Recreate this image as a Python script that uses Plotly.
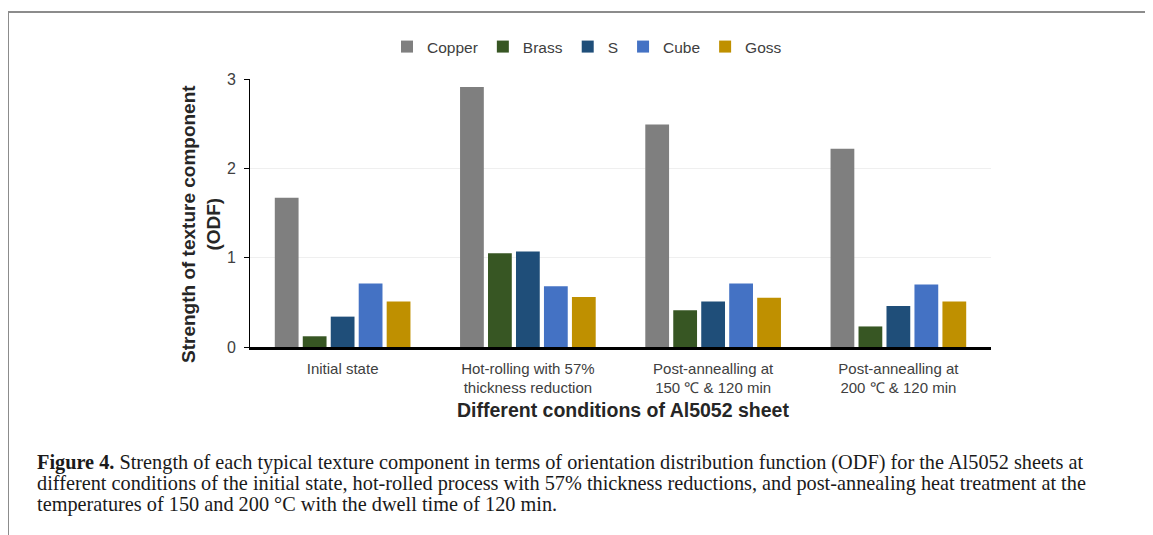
import plotly.graph_objects as go

categories = [
    "Initial state",
    "Hot-rolling with 57%<br>thickness reduction",
    "Post-annealling at<br>150 ℃ & 120 min",
    "Post-annealling at<br>200 ℃ & 120 min",
]
series_names = ["Copper", "Brass", "S", "Cube", "Goss"]
copper = [1.67, 2.91, 2.49, 2.22]
brass = [0.12, 1.05, 0.41, 0.23]
s_comp = [0.34, 1.07, 0.51, 0.46]
cube = [0.71, 0.68, 0.71, 0.70]
goss = [0.51, 0.56, 0.55, 0.51]
series_values = [copper, brass, s_comp, cube, goss]
colors = ["#7f7f7f", "#375623", "#1f4e79", "#4472c4", "#bf9000"]
y_ticks = [0, 1, 2, 3]

caption_lines = [
    "<b>Figure 4.</b> Strength of each typical texture component in terms of orientation "
    "distribution function (ODF) for the Al5052 sheets at",
    "different conditions of the initial state, hot-rolled process with 57% thickness reductions, "
    "and post-annealing heat treatment at the",
    "temperatures of 150 and 200 °C with the dwell time of 120 min.",
]

OFF = 8  # page body margin
W, H = 1153 - OFF, 535 - OFF
# plot area in screen px of the reference
SL, SR, ST, SB = 250, 991, 79, 347
L, R, T, B = SL - OFF, SR - OFF, ST - OFF, SB - OFF


def px(x):  # screen x -> paper
    return (x - OFF - L) / (R - L)


def py(y):  # screen y -> paper
    return (B - (y - OFF)) / (B - T)


fig = go.Figure()
for name, vals, col in zip(series_names, series_values, colors):
    fig.add_trace(go.Bar(name=name, x=categories, y=vals, marker_color=col,
                         marker_line_width=0))

fig.update_layout(
    width=W, height=H, autosize=False,
    margin=dict(l=L, r=W - R, t=T, b=H - B, pad=0),
    paper_bgcolor="white", plot_bgcolor="white",
    barmode="group", bargap=0.245, bargroupgap=0.15,
    font=dict(family="Liberation Sans, Arial, sans-serif", color="#404040"),
    legend=dict(orientation="h", x=px(587), xanchor="center", y=py(47), yanchor="middle",
                font=dict(size=15.5, color="#404040"), itemwidth=30, traceorder="normal",
                bgcolor="rgba(0,0,0,0)"),
    showlegend=True,
)
fig.update_xaxes(showline=True, linecolor="black", linewidth=2.5, ticks="",
                 tickfont=dict(size=15, color="#404040"), showgrid=False,
                 ticklabelstandoff=6)
fig.update_yaxes(range=[0, 3], tickvals=y_ticks, showline=True, linecolor="black", linewidth=1,
                 ticks="outside", ticklen=5, tickcolor="black", tickwidth=1,
                 tickfont=dict(size=16, color="#404040"), ticklabelstandoff=5,
                 showgrid=True, gridcolor="#efefef", gridwidth=1, zeroline=False)

ann = dict(xref="paper", yref="paper", showarrow=False)
fig.add_annotation(**ann, x=px(201), y=py(224), xanchor="center", yanchor="middle", textangle=-90,
                   text="<b>Strength of texture component<br>(ODF)</b>",
                   font=dict(size=19, color="#262626"))
fig.add_annotation(**ann, x=px(623), y=py(410), xanchor="center", yanchor="middle",
                   text="<b>Different conditions of Al5052 sheet</b>",
                   font=dict(size=19.5, color="#262626"))
for i, line in enumerate(caption_lines):
    fig.add_annotation(**ann, x=px(35), xanchor="left", y=py(462 + 21 * i), yanchor="middle",
                       align="left", text=line,
                       font=dict(family="Liberation Serif, Times New Roman, serif", size=20.3,
                                 color="#1a1a1a"))

# page frame lines
fig.add_shape(type="line", xref="paper", yref="paper", x0=px(8), x1=px(1160), y0=py(12), y1=py(12),
              line=dict(color="#8c8c8c", width=2))
fig.add_shape(type="line", xref="paper", yref="paper", x0=px(8), x1=px(8), y0=py(12), y1=py(545),
              line=dict(color="#8c8c8c", width=2))

fig.write_html("out.html")
